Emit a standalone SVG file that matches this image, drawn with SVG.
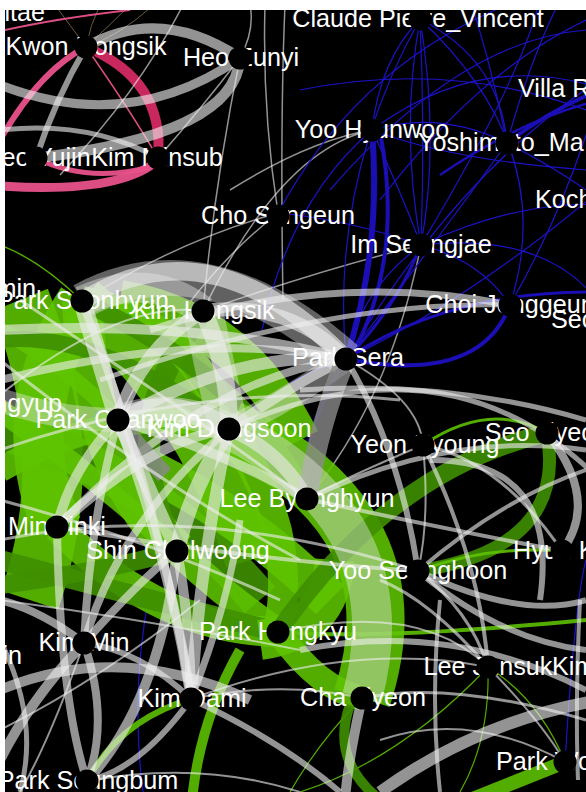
<svg xmlns="http://www.w3.org/2000/svg" width="586" height="792" viewBox="0 0 586 792">
<style>
text{font-family:"Liberation Sans",Arial,Helvetica,sans-serif;font-size:25.2px;fill:#fff;text-anchor:middle}
text.s{text-anchor:start}
text.e{text-anchor:end}
path{fill:none;stroke-linecap:butt}
.gy{stroke:#eeeeee;opacity:.62}
.gl{stroke:#e8e8e8;opacity:.42}
.gd{stroke:#8a8a8a;opacity:.8}
.gr{stroke:#5ec400;opacity:.88}
.gk{stroke:#3f8f00;opacity:.9}
.pk{stroke:#e8528a;opacity:.95}
.pd{stroke:#c8285e}
.bl{stroke:#1c12c8;stroke-width:1.2}
.bt{stroke:#1a0eb4}
.br{stroke:#6b5a3c;stroke-width:1}
circle{fill:#000}
</style>
<defs><clipPath id="cp"><rect x="5" y="10" width="581" height="782"/></clipPath></defs>
<rect width="586" height="792" fill="#fff"/>
<rect x="5" y="10" width="581" height="782" fill="#000"/>
<g clip-path="url(#cp)">
<g id="connectors">
<!-- top-left olive fan -->
<path class="br" d="M86,47 Q70,25 55,5"/><path class="br" d="M86,47 Q90,25 100,5"/><path class="br" d="M86,47 Q110,25 130,5"/><path class="br" d="M86,47 Q120,35 150,8"/>
<!-- pink -->
<path class="pk" stroke-width="2" d="M5,30 Q60,18 130,10"/>
<path class="pk" stroke-width="6" d="M86,47 Q40,70 0,140"/>
<path class="pk" stroke-width="9" d="M158,160 Q120,194 0,186"/>
<path class="pd" stroke-width="10" d="M86,47 Q165,80 158,158"/>
<path class="pk" stroke-width="1.5" d="M86,47 Q130,110 158,158"/>
<path class="pk" stroke-width="5" d="M36,158 Q90,185 158,165"/>
<!-- gray top -->
<path class="gy" stroke-width="10" d="M86,47 Q160,5 240,58"/>
<path class="gy" stroke-width="11" d="M240,58 Q235,135 36,158"/>
<path class="gy" stroke-width="9" d="M0,85 Q130,135 240,58"/>
<path class="gy" stroke-width="6" d="M86,47 Q55,100 36,158"/>
<path class="gy" stroke-width="5" d="M0,130 Q90,120 158,158"/>
<path class="gy" stroke-width="1.5" d="M240,58 Q215,180 203,311"/>
<path class="gy" stroke-width="1.5" d="M240,58 Q200,110 158,158"/>
<path class="gy" stroke-width="1.5" d="M240,58 Q255,30 250,5"/>
<path class="gy" stroke-width="1.5" d="M183,5 Q140,90 60,175"/>
<path class="gy" stroke-width="1.5" d="M265,5 Q262,110 278,213"/>
<path class="gy" stroke-width="1.5" d="M285,5 Q280,120 283,300"/>
<path class="gy" stroke-width="1.5" d="M372,130 Q280,150 203,311"/>
<path class="gy" stroke-width="1.5" d="M278,213 Q180,240 82,301"/>
<path class="gy" stroke-width="1.5" d="M278,213 Q180,290 118,420"/>
<path class="gy" stroke-width="1.5" d="M421,245 Q320,270 203,311"/>
<path class="gy" stroke-width="1.5" d="M421,245 Q390,400 307,499"/>
<path class="gy" stroke-width="1.5" d="M372,130 Q310,140 230,190"/>
<!-- blue thin -->
<path class="bl" d="M420,19 Q400,130 421,245"/><path class="bl" d="M420,19 Q440,140 421,245"/><path class="bl" d="M420,19 Q425,130 421,245"/>
<path class="bl" d="M420,19 Q500,60 507,143"/><path class="bl" d="M420,19 Q380,60 372,130"/><path class="bl" d="M420,19 Q560,150 510,305"/>
<path class="bl" d="M420,19 Q330,180 346,359"/><path class="bl" d="M372,130 Q440,110 507,143"/><path class="bl" d="M372,130 Q480,50 600,88"/>
<path class="bl" d="M372,130 Q400,190 421,245"/><path class="bl" d="M507,143 Q560,170 600,200"/><path class="bl" d="M421,245 Q520,200 600,205"/>
<path class="bl" d="M421,245 Q560,230 610,320"/><path class="bl" d="M346,359 Q470,300 600,190"/><path class="bl" d="M346,359 Q430,250 507,143"/>
<path class="bl" d="M346,359 Q460,170 600,80"/><path class="bl" d="M278,213 Q360,60 520,0"/><path class="bl" d="M507,143 Q490,60 470,0"/>
<path class="bl" d="M507,143 Q530,60 560,0"/><path class="bl" d="M330,190 Q460,40 586,30"/><path class="bl" d="M421,245 Q480,260 510,305"/>
<path class="bl" d="M510,305 Q570,200 600,88"/><path class="bl" d="M346,359 Q280,380 229,429"/><path class="bl" d="M278,213 Q350,220 421,245"/>
<path class="bl" d="M421,245 Q360,290 346,359"/><path class="bl" d="M372,130 Q290,200 262,330"/><path class="bl" d="M150,590 Q130,690 143,792"/>
<path class="bl" d="M300,90 Q450,60 586,110"/><path class="bl" d="M380,200 Q480,70 586,20"/><path class="bl" d="M421,245 Q520,80 540,0"/>
<path class="bl" d="M372,130 Q450,160 586,170"/><path class="bl" d="M586,560 Q575,600 565,762"/>
<!-- blue thick -->
<path class="bt" stroke-width="6" d="M372,130 Q382,250 346,359"/>
<path class="bt" stroke-width="4" d="M380,132 Q405,260 350,359"/>
<path class="bt" stroke-width="3" d="M421,245 Q395,310 346,359"/>
<path class="bt" stroke-width="4" d="M346,359 Q480,385 510,305"/>
<path class="bt" stroke-width="3" d="M346,359 Q450,290 600,292"/>
<path class="bt" stroke-width="4" d="M507,143 Q550,110 600,90"/>
<path class="bt" stroke-width="2.5" d="M440,175 Q520,120 600,100"/>
<path class="bt" stroke-width="4" opacity=".45" d="M346,359 Q310,420 300,470"/>
<!-- green mass -->
<path class="gr" stroke-width="1.5" d="M0,245 Q40,260 82,301"/>
<path class="gr" stroke-width="60" d="M20,300 Q80,450 30,600"/>
<path class="gr" stroke-width="50" d="M82,301 Q200,400 250,560"/>
<path class="gk" stroke-width="40" d="M0,430 Q150,470 260,600"/>
<path class="gr" stroke-width="40" d="M150,470 Q250,520 330,600"/>
<path class="gr" stroke-width="40" d="M120,300 Q240,320 300,440"/>
<path class="gr" stroke-width="50" d="M82,301 Q10,410 57,527"/>
<path class="gr" stroke-width="40" d="M82,301 Q90,470 177,551"/>
<path class="gk" stroke-width="22" d="M203,311 Q110,430 177,551"/>
<path class="gr" stroke-width="30" d="M82,301 Q190,320 229,429"/>
<path class="gr" stroke-width="30" d="M57,527 Q160,630 278,632"/>
<path class="gr" stroke-width="28" d="M177,551 Q230,600 278,632"/>
<path class="gk" stroke-width="20" d="M0,560 Q150,600 278,632"/>
<path class="gr" stroke-width="30" d="M229,429 Q300,530 278,632"/>
<path class="gr" stroke-width="25" d="M0,470 Q120,400 229,429"/>
<path class="gk" stroke-width="18" d="M82,301 Q250,380 307,499"/>
<path class="gr" stroke-width="58" d="M229,429 Q420,520 362,698"/>
<path class="gr" stroke-width="40" d="M260,640 Q330,630 335,560"/>
<path class="gr" stroke-width="25" d="M278,632 Q320,690 362,698"/>
<path class="gr" stroke-width="22" d="M0,410 Q100,480 177,551"/>
<path class="gk" stroke-width="18" d="M0,585 Q100,572 177,551"/>
<path class="gr" stroke-width="16" d="M0,330 Q60,360 118,420"/>
<path class="gk" stroke-width="16" d="M0,340 Q100,330 229,429"/>
<!-- green right/bottom -->
<path class="gk" stroke-width="18" d="M547,433 Q390,470 278,632"/>
<path class="gk" stroke-width="13" d="M547,433 Q568,548 418,571"/>
<path class="gr" stroke-width="3" d="M423,445 Q490,400 547,433"/>
<path class="gr" stroke-width="3" d="M418,571 Q490,545 562,551"/>
<path class="gr" stroke-width="1.2" d="M488,667 Q400,760 300,792"/>
<path class="gr" stroke-width="1.2" d="M488,667 Q490,740 460,792"/>
<path class="gr" stroke-width="1.2" d="M488,667 Q540,700 565,762"/>
<path class="gr" stroke-width="1.2" d="M362,698 Q320,740 290,792"/>
<path class="gr" stroke-width="14" d="M565,762 Q520,780 470,800"/>
<path class="gk" stroke-width="10" d="M350,705 Q330,760 380,800"/>
<path class="gr" stroke-width="6" d="M191,699 Q120,720 87,781"/>
<path class="gr" stroke-width="10" d="M240,650 Q200,720 192,800"/>
<path class="gr" stroke-width="4" d="M278,632 Q380,640 586,620"/>
<!-- gray overlays middle -->
<path class="gl" stroke-width="36" d="M82,301 Q205,235 346,359"/>
<path class="gl" stroke-width="40" d="M203,311 Q215,370 229,429"/>
<path class="gl" stroke-width="30" d="M118,420 Q175,400 229,429"/>
<path class="gl" stroke-width="24" d="M229,429 Q290,400 346,359"/>
<path class="gy" stroke-width="18" d="M82,301 Q210,220 346,359"/>
<path class="gy" stroke-width="14" d="M203,311 Q290,300 346,359"/>
<path class="gy" stroke-width="7" d="M150,330 Q330,270 510,305"/>
<path class="gy" stroke-width="5" d="M100,380 Q330,300 510,305"/>
<path class="gy" stroke-width="10" d="M0,330 Q200,320 346,359"/>
<path class="gy" stroke-width="12" d="M118,420 Q240,350 346,359"/>
<path class="gy" stroke-width="10" d="M229,429 Q300,380 346,359"/>
<path class="gy" stroke-width="8" d="M57,527 Q200,380 346,359"/>
<path class="gd" stroke-width="20" d="M346,359 Q320,420 307,499"/>
<path class="gd" stroke-width="18" d="M118,420 Q140,450 165,475"/>
<path class="gl" stroke-width="30" d="M82,301 Q150,270 203,311"/>
<path class="gy" stroke-width="22" d="M118,420 Q170,395 229,429"/>
<path class="gy" stroke-width="14" d="M118,420 Q150,490 177,551"/>
<path class="gy" stroke-width="16" d="M229,429 Q190,490 177,551"/>
<path class="gy" stroke-width="10" d="M118,420 Q220,450 307,499"/>
<path class="gy" stroke-width="14" d="M229,429 Q280,450 307,499"/>
<path class="gy" stroke-width="18" d="M82,301 Q100,360 118,420"/>
<path class="gy" stroke-width="18" d="M203,311 Q230,370 229,429"/>
<path class="gy" stroke-width="14" d="M203,311 Q140,350 118,420"/>
<path class="gy" stroke-width="10" d="M118,420 Q70,470 57,527"/>
<path class="gy" stroke-width="10" d="M57,527 Q150,440 229,429"/>
<path class="gy" stroke-width="10" d="M118,420 Q170,560 191,699"/>
<path class="gy" stroke-width="12" d="M229,429 Q200,560 191,699"/>
<path class="gy" stroke-width="8" d="M229,429 Q120,520 84,643"/>
<path class="gy" stroke-width="10" d="M177,551 Q190,620 191,699"/>
<path class="gy" stroke-width="8" d="M0,380 Q200,330 346,359"/>
<path class="gl" stroke-width="40" d="M229,429 Q410,520 362,698"/>
<path class="gl" stroke-width="24" d="M0,400 Q60,420 118,420"/>
<path class="gy" stroke-width="3" d="M0,360 Q150,480 300,560"/>
<path class="gy" stroke-width="3" d="M0,450 Q200,380 400,400"/>
<path class="gy" stroke-width="3" d="M0,500 Q150,540 280,600"/>
<path class="gy" stroke-width="3" d="M20,300 Q200,420 307,499"/>
<path class="gy" stroke-width="3" d="M0,540 Q200,500 418,571"/>
<path class="gy" stroke-width="4" d="M57,527 Q250,560 418,571"/>
<path class="gy" stroke-width="2" d="M0,395 Q120,300 203,311"/>
<!-- gray right middle -->
<path class="gy" stroke-width="5" d="M229,429 Q450,330 600,480"/>
<path class="gy" stroke-width="4" d="M423,445 Q480,560 488,667"/>
<path class="gy" stroke-width="6" d="M346,359 Q400,450 418,571"/>
<path class="gy" stroke-width="5" d="M307,499 Q450,430 586,450"/>
<path class="gy" stroke-width="8" d="M547,433 Q600,500 562,551"/>
<path class="gy" stroke-width="3" d="M423,445 Q500,460 562,551"/>
<path class="gy" stroke-width="4" d="M418,571 Q500,500 586,470"/>
<path class="gy" stroke-width="4" d="M307,499 Q450,530 562,551"/>
<path class="gy" stroke-width="6" d="M430,460 Q560,460 540,600"/>
<path class="gy" stroke-width="6" d="M418,571 Q520,620 586,600"/>
<path class="gy" stroke-width="2" d="M423,445 Q340,480 307,499"/>
<path class="gy" stroke-width="2" d="M346,359 Q420,400 423,445"/>
<path class="gy" stroke-width="2" d="M423,445 Q430,520 418,571"/>
<path class="gy" stroke-width="5" d="M300,390 Q450,380 586,420"/>
<!-- gray bottom -->
<path class="gy" stroke-width="8" d="M84,643 Q90,520 118,420"/>
<path class="gy" stroke-width="8" d="M84,643 Q140,580 177,551"/>
<path class="gy" stroke-width="6" d="M84,643 Q140,650 191,699"/>
<path class="gy" stroke-width="10" d="M84,643 Q30,700 0,760"/>
<path class="gy" stroke-width="8" d="M84,643 Q40,610 0,600"/>
<path class="gy" stroke-width="8" d="M84,643 Q110,720 87,781"/>
<path class="gy" stroke-width="8" d="M191,699 Q160,500 82,301"/>
<path class="gy" stroke-width="6" d="M191,699 Q140,770 87,781"/>
<path class="gy" stroke-width="8" d="M87,781 Q60,700 57,527"/>
<path class="gy" stroke-width="10" d="M87,781 Q160,700 177,551"/>
<path class="gy" stroke-width="2" d="M87,781 Q200,760 300,792"/>
<path class="gy" stroke-width="10" d="M0,690 Q120,640 250,700"/>
<path class="gy" stroke-width="2" d="M0,600 Q150,620 300,650"/>
<path class="gy" stroke-width="2" d="M0,730 Q100,680 200,600"/>
<path class="gy" stroke-width="2" d="M20,792 Q50,740 84,643"/>
<path class="gy" stroke-width="2" d="M191,699 Q280,680 362,698"/>
<path class="gy" stroke-width="2" d="M191,699 Q350,640 488,667"/>
<path class="gy" stroke-width="6" d="M191,699 Q280,740 340,792"/>
<path class="gy" stroke-width="7" d="M191,699 Q230,600 240,520"/>
<path class="gy" stroke-width="5" d="M0,640 Q40,720 20,792"/>
<path class="gy" stroke-width="12" d="M380,792 Q480,720 600,700"/>
<path class="gy" stroke-width="2" d="M488,667 Q540,720 565,762"/>
<path class="gy" stroke-width="2" d="M380,740 Q470,710 565,762"/>
<path class="gy" stroke-width="4" d="M440,600 Q430,700 440,792"/>
<path class="gy" stroke-width="4" d="M580,600 Q575,700 578,780"/>
<path class="gy" stroke-width="3" d="M488,667 Q430,600 380,580"/>
<path class="gy" stroke-width="3" d="M488,667 Q470,610 418,571"/>
<path class="gy" stroke-width="6" d="M418,571 Q500,640 586,650"/>
<path class="gy" stroke-width="6" d="M300,650 Q450,620 586,690"/>
<path class="gy" stroke-width="10" d="M362,698 Q348,760 345,800"/>
<path class="gy" stroke-width="3" d="M362,698 Q450,680 586,720"/>
<path class="gy" stroke-width="2" d="M278,632 Q420,600 488,667"/>
</g>
<g id="n-kwon"><text x="86" y="55">Kwon Hongsik</text><circle cx="86" cy="47" r="11.5"/></g>
<g id="n-heoe"><text x="241" y="66">Heo Eunyi</text><circle cx="240" cy="58" r="11.5"/></g>
<g id="n-ultae"><text class="e" x="45" y="21">ultae</text></g>
<g id="n-claude"><text x="418" y="27">Claude Pierre_Vincent</text><circle cx="420" cy="19" r="11.5"/></g>
<g id="n-villa"><text class="s" x="518" y="97">Villa R</text></g>
<g id="n-yooh"><text x="372" y="138">Yoo Hyunwoo</text><circle cx="372" cy="130" r="11.5"/></g>
<g id="n-yosh"><text class="s" x="418" y="151">Yoshimoto_Ma</text><circle cx="507" cy="143" r="11.5"/></g>
<g id="n-heoy"><text x="37" y="166">Heo Yujin</text><circle cx="36" cy="158" r="11.5"/></g>
<g id="n-kimms"><text x="157" y="166">Kim Minsub</text><circle cx="158" cy="158" r="11.5"/></g>
<g id="n-koch"><text class="s" x="535" y="208">Koch</text></g>
<g id="n-chos"><text x="278" y="224">Cho Sungeun</text><circle cx="278" cy="216" r="11.5"/></g>
<g id="n-ims"><text x="421" y="253">Im Seungjae</text><circle cx="421" cy="245" r="11.5"/></g>
<g id="n-min"><text class="e" x="36" y="297">min</text></g>
<g id="n-parkse"><text x="83" y="309">Park Seonhyun</text><circle cx="82" cy="301" r="11.5"/></g>
<g id="n-kimho"><text x="204" y="319">Kim Hongsik</text><circle cx="203" cy="311" r="11.5"/></g>
<g id="n-choij"><text x="510" y="313">Choi Jonggeun</text><circle cx="510" cy="305" r="11.5"/></g>
<g id="n-seo"><text class="s" x="551" y="328">Seo</text></g>
<g id="n-parksera"><text x="348" y="366">Park Sera</text><circle cx="346" cy="359" r="11.5"/></g>
<g id="n-ngyup"><text class="e" x="62" y="412">ngyup</text></g>
<g id="n-parkch"><text x="118" y="428">Park Chanwoo</text><circle cx="118" cy="420" r="11.5"/></g>
<g id="n-kimdo"><text x="229" y="437">Kim Dongsoon</text><circle cx="229" cy="429" r="11.5"/></g>
<g id="n-seoj"><text x="547" y="441">Seo Jiyeon</text><circle cx="547" cy="433" r="11.5"/></g>
<g id="n-yeon"><text x="425" y="453">Yeon Kyoung</text><circle cx="423" cy="445" r="11.5"/></g>
<g id="n-leeb"><text x="307" y="507">Lee Byunghyun</text><circle cx="307" cy="499" r="11.5"/></g>
<g id="n-minj"><text x="57" y="535">Min Jinki</text><circle cx="57" cy="527" r="11.5"/></g>
<g id="n-shinc"><text x="178" y="559">Shin Chulwoong</text><circle cx="177" cy="551" r="11.5"/></g>
<g id="n-hyun"><text class="s" x="513" y="559">Hyun K</text><circle cx="562" cy="551" r="11.5"/></g>
<g id="n-yoos"><text x="418" y="579">Yoo Seunghoon</text><circle cx="418" cy="571" r="11.5"/></g>
<g id="n-parkho"><text x="278" y="640">Park Hongkyu</text><circle cx="278" cy="632" r="11.5"/></g>
<g id="n-kimmin"><text x="84" y="651">Kim Min</text><circle cx="84" cy="643" r="11.5"/></g>
<g id="n-in"><text class="e" x="22" y="664">in</text></g>
<g id="n-leej"><text x="488" y="675">Lee Junsuk</text><circle cx="488" cy="667" r="11.5"/></g>
<g id="n-kimr"><text class="s" x="552" y="675">Kim</text></g>
<g id="n-kimda"><text x="192" y="707">Kim Dami</text><circle cx="191" cy="699" r="11.5"/></g>
<g id="n-cha"><text x="363" y="706">Cha Jiyeon</text><circle cx="362" cy="698" r="11.5"/></g>
<g id="n-parkw"><text class="s" x="496" y="770">Park Wo</text><circle cx="565" cy="762" r="11.5"/></g>
<g id="n-parksb"><text x="88" y="789">Park Seungbum</text><circle cx="87" cy="781" r="11.5"/></g>
</g>
</svg>
